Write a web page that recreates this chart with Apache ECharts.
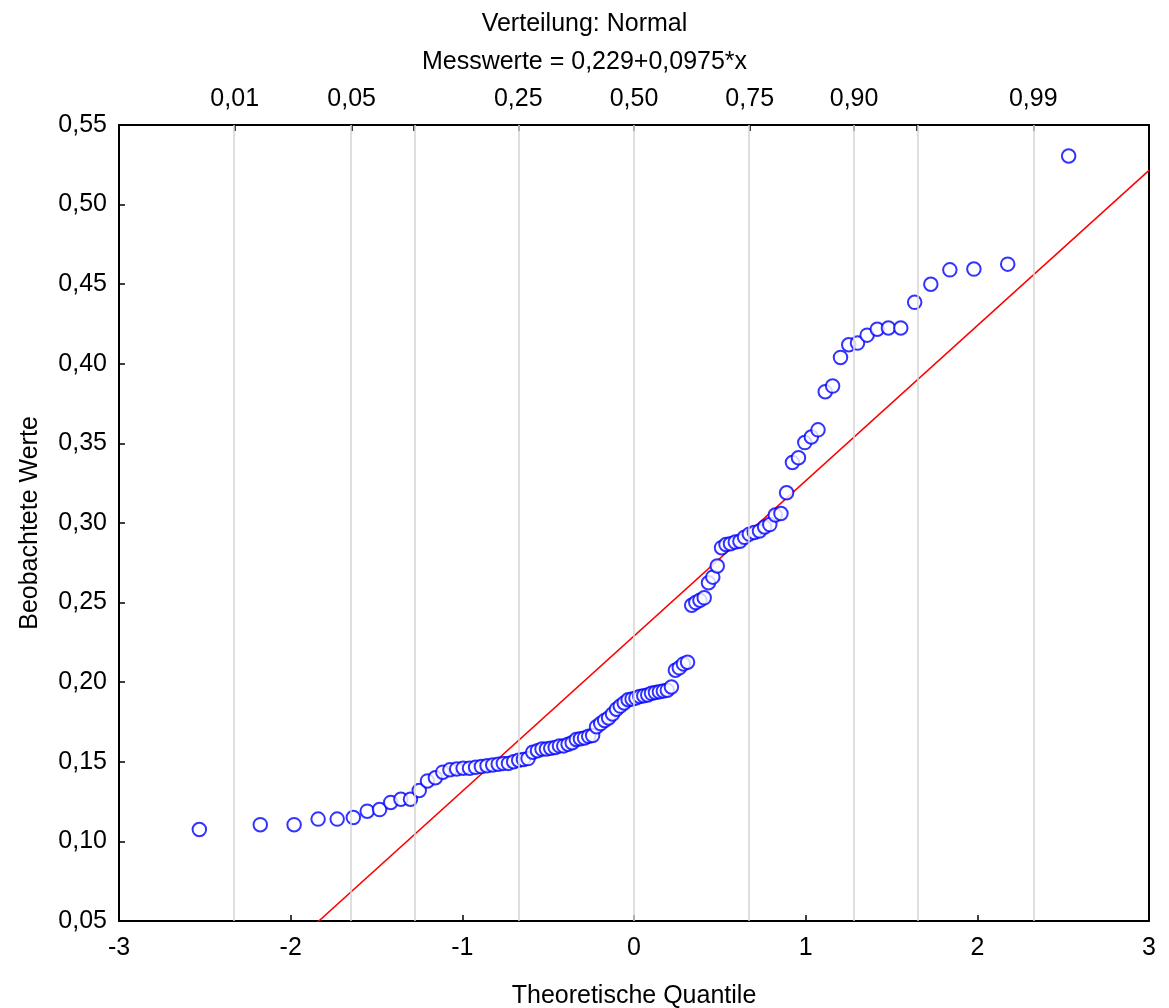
<!DOCTYPE html>
<html lang="de">
<head>
	<meta charset="UTF-8">
	<title>Normalverteilungsplot</title>
	<script src="https://cdn.jsdelivr.net/npm/echarts@6.0.0/dist/echarts.min.js"></script>
	<style>
		html, body { margin: 0; padding: 0; background: #fff; }
		#chart { width: 1169px; height: 1008px; }
	</style>
</head>
<body>
<div id="chart"></div>
<script>
	// theoretische Quantile (x) und beobachtete Werte (y), 110 Messwerte
	var quantile = [
		-2.532, -2.177, -1.980, -1.840, -1.729, -1.635, -1.554, -1.482, -1.417, -1.358,
		-1.302, -1.251, -1.203, -1.157, -1.114, -1.072, -1.033, -0.995, -0.958, -0.923,
		-0.889, -0.856, -0.823, -0.791, -0.761, -0.731, -0.701, -0.672, -0.644, -0.617,
		-0.590, -0.562, -0.536, -0.510, -0.485, -0.459, -0.434, -0.409, -0.384, -0.360,
		-0.336, -0.312, -0.288, -0.264, -0.241, -0.218, -0.194, -0.171, -0.148, -0.125,
		-0.102, -0.080, -0.057, -0.034, -0.011,
		0.011, 0.034, 0.057, 0.080, 0.102, 0.125, 0.148, 0.171, 0.194, 0.218,
		0.241, 0.264, 0.288, 0.312, 0.336, 0.360, 0.384, 0.409, 0.434, 0.459,
		0.485, 0.510, 0.536, 0.562, 0.590, 0.617, 0.644, 0.672, 0.701, 0.731,
		0.761, 0.791, 0.823, 0.856, 0.889, 0.923, 0.958, 0.995, 1.033, 1.072,
		1.114, 1.157, 1.203, 1.251, 1.302, 1.358, 1.417, 1.482, 1.554, 1.635,
		1.729, 1.840, 1.980, 2.177, 2.532
	];
	var messwerte = [
		0.1075, 0.1105, 0.1105, 0.114, 0.114, 0.115, 0.119, 0.120, 0.1245, 0.1265,
		0.1265, 0.132, 0.138, 0.140, 0.1435, 0.145, 0.1455, 0.146, 0.146, 0.1465,
		0.147, 0.1475, 0.148, 0.1485, 0.149, 0.149, 0.150, 0.151, 0.1515, 0.152,
		0.156, 0.157, 0.158, 0.158, 0.1585, 0.159, 0.160, 0.160, 0.161, 0.162,
		0.164, 0.1645, 0.165, 0.166, 0.1665, 0.172, 0.174, 0.176, 0.1775, 0.180,
		0.183, 0.185, 0.187, 0.189, 0.1895,
		0.190, 0.191, 0.1915, 0.192, 0.193, 0.1935, 0.194, 0.1945, 0.195, 0.197,
		0.2075, 0.209, 0.2115, 0.2125, 0.2483, 0.250, 0.2515, 0.253, 0.2625, 0.266,
		0.273, 0.2845, 0.2865, 0.287, 0.288, 0.2885, 0.291, 0.293, 0.294, 0.295,
		0.2975, 0.299, 0.305, 0.306, 0.319, 0.338, 0.341, 0.3505, 0.354, 0.3585,
		0.3825, 0.386, 0.404, 0.412, 0.413, 0.418, 0.4217, 0.4225, 0.4225, 0.4386,
		0.450, 0.459, 0.4595, 0.4626, 0.5305
	];
	// obere Achse: Wahrscheinlichkeiten an ihren Normal-Quantilen
	var probLabels = ['0,01', '0,05', '0,10', '0,25', '0,50', '0,75', '0,90', '0,95', '0,99'];
	var probQuantile = [-2.326, -1.645, -1.282, -0.674, 0, 0.674, 1.282, 1.645, 2.326];
	var probLabelShown = [-2.326, -1.645, -0.674, 0, 0.674, 1.282, 2.326];
	// Messwerte = 0,229+0,0975*x
	var intercept = 0.229;
	var slope = 0.0975;

	var font = 'Liberation Sans, Arial, Helvetica, sans-serif';
	var textStyle = { fontFamily: font, fontSize: 25, color: '#000' };

	var points = [];
	for (var i = 0; i < quantile.length; i++) {
		points.push([quantile[i], messwerte[i]]);
	}

	var chart = echarts.init(document.getElementById('chart'));
	chart.setOption({
		animation: false,
		backgroundColor: '#fff',
		textStyle: { fontFamily: font },
		title: {
			text: 'Verteilung: Normal\nMesswerte = 0,229+0,0975*x',
			left: 'center',
			top: 0,
			textStyle: {
				fontFamily: font,
				fontSize: 25,
				fontWeight: 'normal',
				color: '#000',
				lineHeight: 38
			}
		},
		grid: {
			left: 119,
			right: 20,
			top: 125,
			bottom: 87,
			outerBoundsMode: 'none'
		},
		xAxis: [
			{
				type: 'value',
				position: 'bottom',
				min: -3,
				max: 3,
				interval: 1,
				name: 'Theoretische Quantile',
				nameLocation: 'middle',
				nameGap: 63,
				nameTextStyle: textStyle,
				axisLine: { show: true, onZero: false, lineStyle: { color: '#000', width: 2 } },
				axisTick: { show: true, inside: true, length: 6, lineStyle: { color: '#000', width: 1.5 } },
				axisLabel: {
					margin: 15,
					fontFamily: font,
					fontSize: 25,
					color: '#000'
				},
				splitLine: { show: false }
			},
			{
				type: 'value',
				position: 'top',
				min: -3,
				max: 3,
				axisLine: { show: true, onZero: false, lineStyle: { color: '#000', width: 2 } },
				axisTick: {
					show: true,
					inside: true,
					length: 6,
					customValues: probQuantile,
					lineStyle: { color: '#000', width: 1.5 }
				},
				axisLabel: {
					show: true,
					customValues: probLabelShown,
					margin: 13,
					fontFamily: font,
					fontSize: 25,
					color: '#000',
					formatter: function (value) {
						for (var k = 0; k < probQuantile.length; k++) {
							if (Math.abs(probQuantile[k] - value) < 1e-6) {
								return probLabels[k];
							}
						}
						return '';
					}
				},
				splitLine: { show: false }
			}
		],
		yAxis: [
			{
				type: 'value',
				position: 'left',
				min: 0.05,
				max: 0.55,
				interval: 0.05,
				name: 'Beobachtete Werte',
				nameLocation: 'middle',
				nameGap: 76,
				nameTextStyle: textStyle,
				axisLine: { show: true, onZero: false, lineStyle: { color: '#000', width: 2 } },
				axisTick: { show: true, inside: true, length: 6, lineStyle: { color: '#000', width: 1.5 } },
				axisLabel: {
					margin: 12,
					fontFamily: font,
					fontSize: 25,
					color: '#000',
					formatter: function (value) {
						return value.toFixed(2).replace('.', ',');
					}
				},
				splitLine: { show: false }
			},
			{
				type: 'value',
				position: 'right',
				min: 0.05,
				max: 0.55,
				axisLine: { show: true, onZero: false, lineStyle: { color: '#000', width: 2 } },
				axisTick: { show: false },
				axisLabel: { show: false },
				splitLine: { show: false }
			}
		],
		series: [
			{
				// nur Träger der grauen Hilfslinien
				name: 'gitter',
				type: 'line',
				xAxisIndex: 0,
				yAxisIndex: 0,
				z: 1,
				silent: true,
				showSymbol: false,
				lineStyle: { opacity: 0 },
				data: [[-3, 0.3], [3, 0.3]],
				markLine: {
					silent: true,
					symbol: ['none', 'none'],
					label: { show: false },
					lineStyle: { color: '#d4d4d4', width: 1.5, type: 'solid' },
					data: probQuantile.map(function (q) {
						return { xAxis: q };
					})
				}
			},
			{
				name: 'Anpassung',
				type: 'line',
				xAxisIndex: 0,
				yAxisIndex: 0,
				z: 2,
				clip: true,
				showSymbol: false,
				lineStyle: { color: '#ff0000', width: 1.5 },
				data: [[-3, intercept + slope * -3], [3, intercept + slope * 3]]
			},
			{
				name: 'Messwerte',
				type: 'scatter',
				xAxisIndex: 0,
				yAxisIndex: 0,
				z: 3,
				symbol: 'emptyCircle',
				symbolSize: 13.5,
				itemStyle: { color: '#0000ff', borderColor: '#0000ff', borderWidth: 2 },
				data: points
			}
		]
	});
</script>
</body>
</html>
